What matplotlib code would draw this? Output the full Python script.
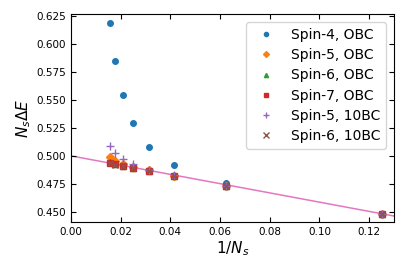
import numpy as np
import matplotlib
matplotlib.use("Agg")
import matplotlib.pyplot as plt

inv_ns = [1/64, 1/56, 1/48, 1/40, 1/32, 1/24, 1/16, 1/8]

spin4_obc = [0.6185, 0.5845, 0.5545, 0.5292, 0.5084, 0.4917, 0.4760, 0.4485]
spin5_obc = [0.4990, 0.4960, 0.4933, 0.4905, 0.4872, 0.4825, 0.4735, 0.4485]
spin6_obc = [0.4950, 0.4930, 0.4915, 0.4895, 0.4870, 0.4825, 0.4735, 0.4485]
spin7_obc = [0.4940, 0.4925, 0.4910, 0.4893, 0.4868, 0.4824, 0.4734, 0.4485]
spin5_10bc = [0.5090, 0.5027, 0.4970, 0.4926, 0.4878, 0.4827, 0.4737, 0.4485]
spin6_10bc = [0.4938, 0.4922, 0.4908, 0.4890, 0.4866, 0.4823, 0.4733, 0.4485]

fit_x = [0.0, 0.13]
fit_intercept = 0.5002
fit_slope = -0.4125

fig = plt.figure(figsize=(4.07, 2.71), dpi=100)
ax = fig.add_axes([0.174, 0.181, 0.794, 0.767])

ax.plot(fit_x, [fit_intercept + fit_slope * x for x in fit_x], color='tab:pink', lw=1.1, zorder=1)

ms = 4
ax.plot(inv_ns, spin4_obc, 'o', ms=ms, color='tab:blue', label='Spin-4, OBC')
ax.plot(inv_ns, spin5_obc, 'D', ms=ms, color='tab:orange', label='Spin-5, OBC')
ax.plot(inv_ns, spin6_obc, '^', ms=ms, color='tab:green', label='Spin-6, OBC')
ax.plot(inv_ns, spin7_obc, 's', ms=ms, color='tab:red', label='Spin-7, OBC')
ax.plot(inv_ns, spin5_10bc, '+', ms=5.5, mew=1, color='tab:purple', label='Spin-5, 10BC')
ax.plot(inv_ns, spin6_10bc, 'x', ms=5, mew=1, color='tab:brown', label='Spin-6, 10BC')

ax.set_xlim(0, 0.13)
ax.set_ylim(0.4413, 0.6265)
ax.set_xticks(np.arange(0, 0.121, 0.02))
ax.set_yticks(np.arange(0.45, 0.626, 0.025))
ax.tick_params(direction='in', top=True, right=True, labelsize=7.5, length=3.5)
ax.set_xlabel(r'$1/N_s$', fontsize=11, labelpad=2)
ax.set_ylabel(r'$N_s\Delta E$', fontsize=11, labelpad=2)

ax.legend(loc='upper right', fontsize=10, markerscale=0.75, handlelength=2.0,
          labelspacing=0.45, borderaxespad=0.6)

fig.savefig('out.png', dpi=100)
